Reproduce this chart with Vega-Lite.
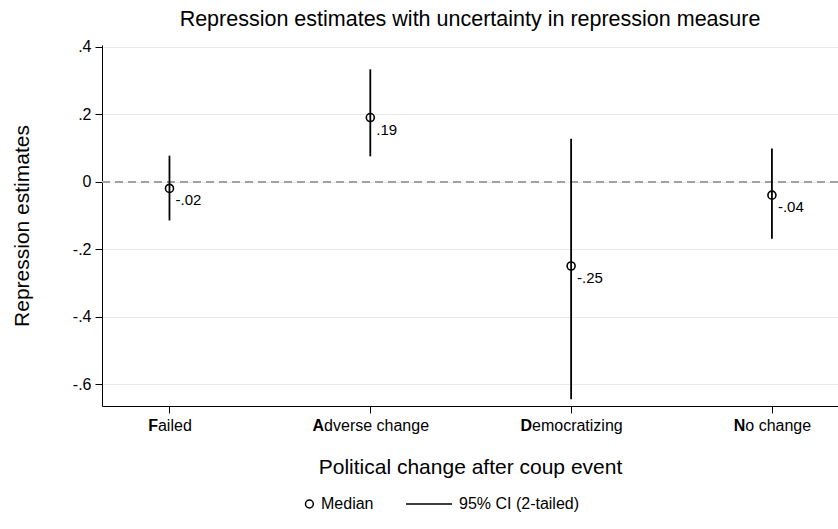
{
  "$schema": "https://vega.github.io/schema/vega-lite/v6.json",
  "width": 736,
  "height": 361,
  "autosize": {"type": "none"},
  "padding": {"left": 102, "top": 45, "right": 0, "bottom": 123},
  "background": "white",
  "title": {
    "text": "Repression estimates with uncertainty in repression measure",
    "fontSize": 21.5,
    "fontWeight": "normal",
    "color": "black",
    "anchor": "middle",
    "offset": 8
  },
  "data": {
    "values": [
      {"change": "Failed", "pos": 1, "median": -0.02, "lo": -0.115, "hi": 0.077, "lab": "-.02"},
      {"change": "Adverse change", "pos": 2, "median": 0.19, "lo": 0.075, "hi": 0.333, "lab": ".19"},
      {"change": "Democratizing", "pos": 3, "median": -0.25, "lo": -0.645, "hi": 0.127, "lab": "-.25"},
      {"change": "No change", "pos": 4, "median": -0.04, "lo": -0.169, "hi": 0.098, "lab": "-.04"}
    ]
  },
  "resolve": {"axis": {"x": "independent"}},
  "layer": [
    {
      "mark": {"type": "rule", "color": "#a0a0a0", "strokeWidth": 1.5, "strokeDash": [8, 5]},
      "encoding": {
        "y": {"datum": 0, "type": "quantitative", "title": "Repression estimates"}
      }
    },
    {
      "mark": {"type": "rule", "color": "black", "strokeWidth": 1.8},
      "encoding": {
        "x": {
          "field": "pos",
          "type": "quantitative",
          "scale": {"domain": [0.664, 4.329], "nice": false, "zero": false},
          "axis": {
            "orient": "bottom",
            "values": [1, 2, 3, 4],
            "labelExpr": "['', 'F', 'A', 'D', 'N'][datum.value]",
            "labelFontWeight": "bold",
            "labelAlign": "right",
            "labelOffset": {"expr": "datum.value == 1 ? -12 : datum.value == 2 ? -46.7 : datum.value == 3 ? -39.6 : -27.1"},
            "labelFontSize": 16,
            "labelPadding": 4,
            "labelFlush": false,
            "labelOverlap": false,
            "tickSize": 7,
            "grid": false,
            "title": "Political change after coup event",
            "titleFontSize": 21,
            "titleFontWeight": "normal",
            "titlePadding": 23
          }
        },
        "y": {
          "field": "lo",
          "type": "quantitative",
          "title": "Repression estimates",
          "scale": {"domain": [-0.665, 0.405], "nice": false, "zero": false},
          "axis": {
            "values": [-0.6, -0.4, -0.2, 0, 0.2, 0.4],
            "labelExpr": "datum.value == 0 ? '0' : (datum.value < 0 ? '-' : '') + '.' + round(abs(datum.value) * 10)",
            "labelFontSize": 16,
            "labelPadding": 4,
            "labelAngle": 0,
            "tickSize": 7,
            "grid": true,
            "gridColor": "#ebebeb",
            "titleFontSize": 21,
            "titleFontWeight": "normal",
            "titlePadding": 40
          }
        },
        "y2": {"field": "hi"}
      }
    },
    {
      "mark": {"type": "point", "filled": false, "color": "black", "strokeWidth": 1.6, "size": 64, "shape": "circle", "opacity": 1},
      "encoding": {
        "x": {
          "field": "pos",
          "type": "quantitative",
          "axis": {
            "orient": "bottom",
            "values": [1, 2, 3, 4],
            "labelExpr": "['', 'ailed', 'dverse change', 'emocratizing', 'o change'][datum.value]",
            "labelAlign": "left",
            "labelOffset": {"expr": "datum.value == 1 ? -12 : datum.value == 2 ? -46.7 : datum.value == 3 ? -39.6 : -27.1"},
            "labelFontSize": 16,
            "labelPadding": 4,
            "labelFlush": false,
            "labelOverlap": false,
            "tickSize": 7,
            "tickOpacity": 0,
            "domain": false,
            "grid": false,
            "title": null
          }
        },
        "y": {"field": "median", "type": "quantitative", "title": "Repression estimates"}
      }
    },
    {
      "mark": {"type": "text", "align": "left", "baseline": "middle", "dx": 6, "dy": 12, "fontSize": 15, "color": "black"},
      "encoding": {
        "x": {"field": "pos", "type": "quantitative", "axis": null},
        "y": {"field": "median", "type": "quantitative", "title": "Repression estimates"},
        "text": {"field": "lab"}
      }
    },
    {
      "description": "Key for the median marker and the interval line",
      "mark": {"type": "point", "filled": false, "color": "black", "strokeWidth": 1.5, "size": 0, "opacity": 1},
      "encoding": {
        "x": {"field": "pos", "type": "quantitative", "axis": null},
        "y": {"field": "median", "type": "quantitative", "title": "Repression estimates"},
        "shape": {
          "datum": "Median",
          "scale": {
            "domain": ["Median", "95% CI (2-tailed)"],
            "range": ["M0.97,0A0.17,0.17,0,1,1,0.63,0A0.17,0.17,0,1,1,0.97,0Z", "M-1,0H1"]
          },
          "legend": {
            "orient": "none",
            "direction": "horizontal",
            "legendX": 165,
            "legendY": 435,
            "title": null,
            "padding": 0,
            "symbolSize": 2116,
            "symbolStrokeWidth": 1.5,
            "symbolStrokeColor": "black",
            "symbolFillColor": "transparent",
            "symbolOpacity": 1,
            "labelFontSize": 16,
            "labelOffset": 6,
            "columnPadding": 29
          }
        }
      }
    }
  ],
  "config": {
    "font": "Liberation Sans",
    "view": {"stroke": null},
    "axis": {
      "domainColor": "black",
      "tickColor": "black",
      "labelColor": "black",
      "titleColor": "black",
      "domainWidth": 1,
      "tickWidth": 1
    },
    "legend": {"labelColor": "black"}
  }
}
